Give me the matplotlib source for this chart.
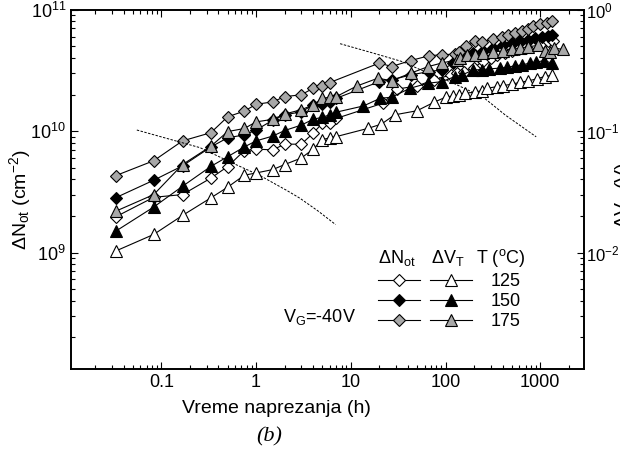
import matplotlib
matplotlib.use("Agg")
import matplotlib.pyplot as plt
from matplotlib.lines import Line2D
from matplotlib.ticker import FixedLocator, FixedFormatter, LogLocator, NullFormatter

plt.rcParams["font.family"] = ["Liberation Sans", "DejaVu Sans"]
plt.rcParams["mathtext.fontset"] = "custom"
plt.rcParams["mathtext.rm"] = "Liberation Sans"
plt.rcParams["mathtext.it"] = "Liberation Sans:italic"
plt.rcParams["mathtext.bf"] = "Liberation Sans:bold"
plt.rcParams["axes.unicode_minus"] = False

# vreme naprezanja (h) i vrednosti ocitane sa slike
# dNot u 1e10 cm^-2
t_n125 = [0.033, 0.083, 0.167, 0.333, 0.5, 0.75, 1, 1.5, 2, 3, 4, 5, 6, 7,
          22, 31, 50, 75, 114, 131, 155, 200, 248, 300, 350, 420, 500, 600,
          700, 800, 900, 1050, 1220, 1380]
n125 = [0.197, 0.285, 0.30, 0.41, 0.51, 0.69, 0.71, 0.70, 0.78, 0.78, 0.96,
        1.16, 1.17, 1.27, 1.70, 2.22, 2.35, 2.64, 2.9, 3.0, 3.09, 3.3, 3.8,
        4.0, 4.25, 4.4, 4.55, 4.7, 4.82, 5.0, 5.15, 5.3, 5.47, 5.5]

t_n150 = [0.033, 0.083, 0.167, 0.333, 0.5, 0.75, 1, 1.5, 2, 3, 4, 5, 6, 7,
          20, 27, 43, 67, 91, 120, 140, 165, 197, 251, 320, 408, 501, 613,
          750, 883, 1040, 1220, 1325]
n150 = [0.283, 0.394, 0.517, 0.74, 0.88, 0.93, 1.02, 1.23, 1.36, 1.44, 1.64,
        1.67, 1.75, 1.86, 2.55, 2.64, 2.9, 3.09, 3.19, 3.6, 4.25, 4.3, 4.38,
        4.52, 4.82, 5.07, 5.31, 5.55, 5.65, 5.84, 5.95, 6.02, 6.2]

t_n175 = [0.033, 0.083, 0.167, 0.333, 0.5, 0.75, 1, 1.5, 2, 3, 4, 5, 6,
          20, 27, 43, 67, 91, 125, 140, 165, 205, 240, 320, 390, 460, 540,
          640, 750, 840, 1000, 1175, 1325]
n175 = [0.43, 0.57, 0.83, 0.97, 1.31, 1.46, 1.66, 1.74, 1.92, 1.99, 2.25,
        2.35, 2.51, 3.63, 3.4, 3.81, 4.17, 4.25, 4.3, 4.5, 4.98, 5.47, 5.42,
        5.75, 5.9, 6.2, 6.46, 6.62, 6.97, 7.28, 7.62, 7.76, 8.1]

# dVT u V
t_v125 = [0.033, 0.083, 0.167, 0.333, 0.5, 0.75, 1, 1.5, 2, 3, 4, 5, 6, 7,
          15, 21, 29, 50, 76, 100, 120, 140, 161, 205, 240, 273, 348, 408,
          501, 613, 750, 915, 1110, 1325]
v125 = [0.0103, 0.0141, 0.0202, 0.0282, 0.0345, 0.0433, 0.0452, 0.0482,
        0.053, 0.060, 0.071, 0.085, 0.088, 0.090, 0.105, 0.114, 0.136, 0.147,
        0.173, 0.19, 0.195, 0.198, 0.205, 0.209, 0.215, 0.225, 0.232, 0.237,
        0.243, 0.252, 0.259, 0.269, 0.281, 0.287]

t_v150 = [0.033, 0.083, 0.167, 0.333, 0.5, 0.75, 1, 1.5, 2, 3, 4, 5, 6, 7,
          13.6, 20.4, 27, 42, 66, 91, 126, 150, 197, 240, 290, 377, 450, 540,
          640, 780, 900, 1100, 1325]
v150 = [0.015, 0.0237, 0.0351, 0.0512, 0.0615, 0.074, 0.083, 0.091, 0.101,
        0.112, 0.125, 0.13, 0.136, 0.143, 0.161, 0.186, 0.19, 0.225, 0.248,
        0.255, 0.281, 0.29, 0.319, 0.32, 0.325, 0.33, 0.335, 0.345, 0.35,
        0.363, 0.37, 0.38, 0.363]

t_v175 = [0.033, 0.083, 0.167, 0.333, 0.5, 0.75, 1, 1.5, 2, 3, 4, 5, 6, 7,
          11.6, 19.2, 27, 43, 66, 91, 131, 143, 170, 205, 250, 320, 408, 500,
          613, 750, 951, 1110, 1260, 1400, 1750]
v175 = [0.0219, 0.030, 0.053, 0.075, 0.099, 0.105, 0.119, 0.125, 0.138,
        0.15, 0.164, 0.186, 0.19, 0.192, 0.235, 0.272, 0.26, 0.30, 0.34,
        0.363, 0.386, 0.399, 0.42, 0.419, 0.438, 0.447, 0.458, 0.47, 0.482,
        0.495, 0.507, 0.46, 0.45, 0.482, 0.47]

# isprekidane krive (1e10 cm^-2)
t_fit1 = [0.055, 0.134, 0.256, 0.58, 1.1, 2.1, 2.9, 4.5, 6.9]
fit1 = [1.02, 0.84, 0.73, 0.54, 0.43, 0.325, 0.28, 0.22, 0.17]
t_fit2 = [7.7, 17.3, 34.6, 68.6, 112, 250, 430, 906]
fit2 = [5.24, 4.38, 3.74, 2.95, 2.55, 1.9, 1.35, 0.897]

temps = ["125", "150", "175"]
fills = ["white", "black", "#a8a8a8"]

fig = plt.figure(figsize=(6.2, 4.57), dpi=100)
ax = fig.add_axes([0.1145, 0.1926, 0.8275, 0.7864])
ax2 = ax.twinx()

line_kw = dict(color="black", lw=0.8, mec="black", mew=0.8)
for t, n, fc in zip([t_n125, t_n150, t_n175], [n125, n150, n175], fills):
    ax.plot(t, [v * 1e10 for v in n], marker="D", ms=6, mfc=fc, **line_kw)
for t, v, fc in zip([t_v125, t_v150, t_v175], [v125, v150, v175], fills):
    ax2.plot(t, v, marker="^", ms=8, mfc=fc, **line_kw)

dash = dict(color="black", lw=0.7, ls=(0, (2.5, 1.5)))
ax.plot(t_fit1, [v * 1e10 for v in fit1], **dash)
ax.plot(t_fit2, [v * 1e10 for v in fit2], **dash)

ax.set_xscale("log")
ax.set_yscale("log")
ax2.set_yscale("log")
ax.set_xlim(0.0111, 2900)
ax.set_ylim(1.1e8, 1e11)
ax2.set_ylim(1.1e-3, 1.0)

ax.xaxis.set_major_locator(FixedLocator([0.1, 1, 10, 100, 1000]))
ax.xaxis.set_major_formatter(FixedFormatter(["0.1", "1", "10", "100", "1000"]))
for a in (ax, ax2):
    a.yaxis.set_minor_locator(LogLocator(base=10, subs=range(2, 10)))
    a.yaxis.set_minor_formatter(NullFormatter())
ax.xaxis.set_minor_locator(LogLocator(base=10, subs=range(2, 10)))
ax.xaxis.set_minor_formatter(NullFormatter())

ax.tick_params(which="both", direction="in", top=True, right=False,
               labelsize=13, width=0.8)
ax.tick_params(which="major", length=5)
ax.tick_params(which="minor", length=3)
ax2.tick_params(which="both", direction="in", labelsize=12, width=0.8, pad=1.5)
ax2.tick_params(which="major", length=5)
ax2.tick_params(which="minor", length=3)
for a in (ax, ax2):
    for s in a.spines.values():
        s.set_linewidth(1.2)

ax.set_xlabel("Vreme naprezanja (h)", fontsize=14)
ax.xaxis.set_label_coords(0.40, -0.085)
ax.set_ylabel(r"ΔN$_{\rm ot}$ (cm$^{-2}$)", fontsize=14)
ax.yaxis.set_label_coords(-0.074, 0.47)
ax2.set_ylabel(r"ΔV$_{\rm T}$ (V)", fontsize=14)
ax2.yaxis.set_label_coords(1.0565, 0.484)

# legenda
handles = []
labels = []
for fc in fills:
    handles.append(Line2D([], [], marker="D", ms=6, mfc=fc, **line_kw))
    labels.append(" ")
for fc in fills:
    handles.append(Line2D([], [], marker="^", ms=8, mfc=fc, **line_kw))
    labels.append(" ")
for tt in temps:
    handles.append(Line2D([], [], ls="none"))
    labels.append(tt)
ax.legend(handles, labels, ncol=3, fontsize=13, frameon=False,
          loc="upper left", bbox_to_anchor=(0.598, 0.267), borderpad=0,
          borderaxespad=0, handlelength=2.33, handletextpad=-1.92,
          columnspacing=2.22, labelspacing=0.17)

ax.text(0.636, 0.309, r"ΔN$_{\rm ot}$", transform=ax.transAxes,
        ha="center", va="center", fontsize=13)
ax.text(0.734, 0.309, r"ΔV$_{\rm T}$", transform=ax.transAxes,
        ha="center", va="center", fontsize=13)
ax.text(0.838, 0.309, r"T ($^{\rm o}$C)", transform=ax.transAxes,
        ha="center", va="center", fontsize=13)
ax.text(0.413, 0.13, r"V$_{\rm G}$=-40V", transform=ax.transAxes,
        ha="left", va="baseline", fontsize=13)

fig.text(269 / 620, 1 - 437 / 457, "(b)", ha="center", va="center",
         family="Liberation Serif", style="italic", fontsize=16)

fig.savefig("out.png", dpi=100)
